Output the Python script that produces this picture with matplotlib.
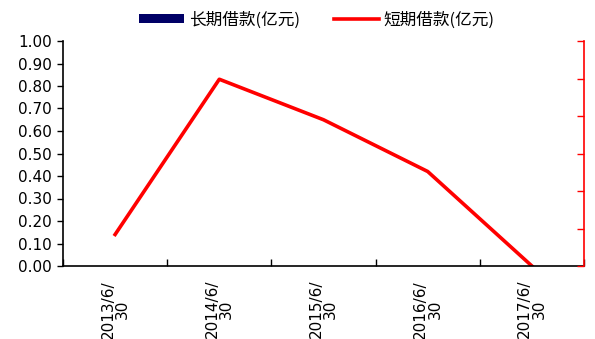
import numpy as np
import matplotlib.pyplot as plt

plt.rcParams['font.family'] = ['DejaVu Sans', 'Noto Sans CJK SC']

dates = ['2013/6/\n30', '2014/6/\n30', '2015/6/\n30', '2016/6/\n30', '2017/6/\n30']
long_loans = [0.0, 0.0, 0.0, 0.0, 0.0]
short_loans = [0.14, 0.83, 0.65, 0.42, 0.0]

fig = plt.figure(figsize=(5.95, 3.39), dpi=100)
ax = fig.add_axes([63/595, 1-266/339, (584-63)/595, (266-41)/339])

x = np.arange(len(dates))
bars = ax.bar(x, long_loans, width=0.5, color='#000066', label='长期借款(亿元)')
line, = ax.plot(x, short_loans, color='#ff0000', lw=2.6, label='短期借款(亿元)')

ax.set_xlim(-0.5, len(dates) - 0.5)
ax.set_ylim(0, 1.0)
ax.set_yticks(np.arange(0, 1.01, 0.1))
ax.set_yticklabels([f'{v:.2f}' for v in np.arange(0, 1.01, 0.1)], fontsize=11)
ax.tick_params(axis='y', direction='out', length=4, width=1, pad=4)

# category boundaries get the tick marks, labels sit in the middle
ax.set_xticks(np.arange(-0.5, len(dates), 1.0))
ax.set_xticklabels([])
ax.tick_params(axis='x', which='major', direction='in', length=5, width=1)
ax.set_xticks(x, minor=True)
ax.set_xticklabels(dates, minor=True, rotation=90, fontsize=11,
                   ha='center', va='top', multialignment='center', linespacing=0.95)
ax.tick_params(axis='x', which='minor', length=0, pad=10)

ax.spines['top'].set_visible(False)
ax.spines['right'].set_visible(False)
for s in ['left', 'bottom']:
    ax.spines[s].set_linewidth(1.2)

ax2 = ax.twinx()
ax2.set_ylim(0, 1.2)
ax2.set_yticks(np.arange(0, 1.21, 0.2))
ax2.set_yticklabels([])
ax2.tick_params(axis='y', direction='in', length=5, color='#ff0000', width=1)
for s in ['top', 'left', 'bottom']:
    ax2.spines[s].set_visible(False)
ax2.spines['right'].set_color('#ff0000')
ax2.spines['right'].set_linewidth(1.2)

fig.legend(handles=[bars, line], loc='center', bbox_to_anchor=(317/595, 1-20/339),
           ncol=2, frameon=False,
           prop={'family': 'Noto Sans CJK SC', 'size': 12},
           handlelength=2.7, handleheight=0.45, columnspacing=2.0, handletextpad=0.3)

fig.savefig('out.png', dpi=100)
